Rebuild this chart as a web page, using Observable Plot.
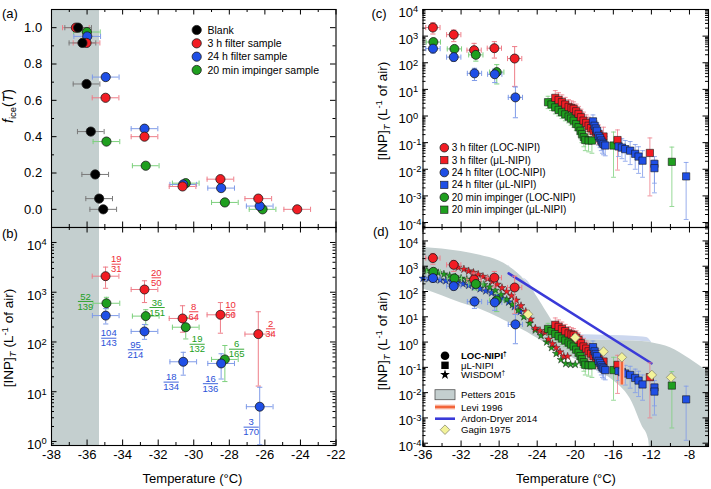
<!DOCTYPE html>
<html><head><meta charset="utf-8">
<script src="https://cdn.jsdelivr.net/npm/d3@7"></script>
<script src="https://cdn.jsdelivr.net/npm/@observablehq/plot@0.6"></script>
<style>
html,body{margin:0;padding:0;background:#fff;}
#root{position:relative;width:711px;height:489px;overflow:hidden;background:#fff;}
#root svg{position:absolute;left:0;top:0;}
</style></head><body><div id="root"></div>
<script>
const FONT = '"Liberation Sans", Arial, Helvetica, sans-serif';

// ---------------- Panel (a): frozen fraction f_ice(T) ----------------
const blankT     = [-36.50,-36.26,-36.03,-35.79,-35.54,-35.32,-35.09];
const blankF     = [1.0,0.916,0.69,0.428,0.192,0.059,0.0];
const filter3hT  = [-36.63,-36.03,-34.96,-32.77,-30.63,-28.50,-26.37,-24.18];
const filter3hF  = [1.0,0.916,0.614,0.400,0.126,0.166,0.059,0.0];
const filter24hT = [-35.99,-34.95,-32.77,-30.59,-28.46,-26.29];
const filter24hF = [0.952,0.728,0.444,0.137,0.117,0.018];
const impingerT  = [-36.01,-34.91,-32.70,-30.45,-28.25,-26.13];
const impingerF  = [0.976,0.373,0.24,0.144,0.038,0.0];
const tempErr = 0.75;
const homogeneousLimit = -35.3;

// ---------------- LOC-NIPI [INP]_T (panels b, c, d) ----------------
const locRedT   = [-34.96,-32.77,-30.63,-28.50,-26.37];
const locRedV   = [2100,1135,297,352,144];
const locRedLo  = [1200,620,157,150,13];
const locRedHi  = [3200,1700,535,620,405];
const locGreenT = [-34.91,-32.70,-30.45,-28.25];
const locGreenV = [600,331,198,44.6];
const locGreenLo= [465,222,115,16];
const locGreenHi= [790,445,310,85];
const locBlueT  = [-34.95,-32.77,-30.59,-28.46,-26.29];
const locBlueV  = [339,163,40,37,5.0];
const locBlueLo = [230,113,21.5,18,0.86];
const locBlueHi = [470,225,62,58,12.3];

// fraction labels in (b): frozen / total droplets
const fracRedT   = [-34.36,-32.11,-30.00,-27.93,-25.68];
const fracRedV   = [3660,1950,405,437,184];
const fracRedNum = ["19","20","8","10","2"];
const fracRedDen = ["31","50","64","60","34"];
const fracGreenT   = [-36.09,-32.06,-29.81,-27.59];
const fracGreenV   = [652,493,90,71.6];
const fracGreenNum = ["52","36","19","6"];
const fracGreenDen = ["139","151","132","165"];
const fracBlueT   = [-34.78,-33.28,-31.27,-29.06,-26.77];
const fracBlueV   = [119,69.7,15.6,14.5,1.94];
const fracBlueNum = ["104","95","18","16","3"];
const fracBlueDen = ["143","214","134","136","170"];

// ---------------- μL-NIPI ----------------
const redMuT  = [-22.10,-21.75,-21.40,-21.05,-20.70,-20.40,-20.17,-19.90,-19.65,-19.40,-19.13,-18.85,-18.60,-18.35,-18.08,-17.80,-17.55,-17.03,-15.56,-12.16];
const redMuV  = [4.8,4.0,3.3,2.7,2.2,2.0,1.85,1.5,1.2,0.9,0.67,0.55,0.43,0.35,0.28,0.24,0.21,0.17,0.125,0.041];
const redMuHi = [9.0,7.5,6.2,5.0,4.1,3.7,3.4,2.8,2.3,1.8,1.4,1.1,0.9,0.75,0.6,0.52,0.46,0.38,0.30,0.15];
const redMuLo = [2.6,2.2,1.8,1.5,1.2,1.1,1.0,0.8,0.62,0.45,0.32,0.26,0.2,0.16,0.12,0.1,0.085,0.06,0.0093,0.001];
const greenMuT  = [-22.86,-22.50,-22.10,-21.75,-21.40,-21.05,-20.70,-20.45,-20.17,-19.90,-19.65,-19.45,-19.30,-19.10,-18.95,-18.60,-18.25,-15.98,-9.85];
const greenMuV  = [3.3,2.7,2.1,1.7,1.38,1.15,0.95,0.8,0.67,0.5,0.38,0.28,0.21,0.16,0.126,0.12,0.12,0.078,0.019];
const greenMuHi = [5.5,4.5,3.6,2.9,2.4,2.0,1.6,1.4,1.15,0.9,0.7,0.52,0.4,0.32,0.26,0.25,0.25,0.25,0.068];
const greenMuLo = [1.9,1.6,1.2,1.0,0.8,0.66,0.55,0.45,0.38,0.28,0.2,0.14,0.1,0.07,0.05,0.045,0.04,0.005,0.0004];
const blueMuT  = [-18.14,-17.97,-17.85,-17.72,-17.55,-17.40,-17.27,-17.15,-17.03,-16.85,-15.45,-15.10,-14.75,-14.23,-13.70,-13.35,-12.93,-11.68,-11.68,-8.35];
const blueMuV  = [0.63,0.43,0.34,0.28,0.18,0.15,0.12,0.1,0.089,0.078,0.072,0.065,0.057,0.05,0.038,0.03,0.021,0.016,0.011,0.0054];
const blueMuHi = [1.1,0.8,0.65,0.55,0.38,0.32,0.27,0.22,0.2,0.17,0.15,0.14,0.12,0.11,0.085,0.07,0.05,0.03,0.022,0.018];
const blueMuLo = [0.3,0.2,0.15,0.12,0.08,0.065,0.05,0.04,0.035,0.032,0.03,0.025,0.02,0.015,0.01,0.007,0.005,0.003,0.0013,0.00013];

// ---------------- WISDOM (panel d) ----------------
const wisdomRedT = [-32.8,-32.3,-31.7,-31.2,-30.7,-30.2,-29.7,-29.2,-28.7,-28.2,-27.7,-27.2,-26.7,-26.2,-25.7,-25.2,-24.7,-24.2,-23.7,-23.2,-22.8,-22.4,-22.0,-21.6,-21.2,-20.8];
const wisdomRedV = [1100,900,760,640,560,470,390,320,250,190,140,100,68,45,27,16,8,3.5,2.8,2.4,1.3,0.85,0.6,0.4,0.27,0.27];
const wisdomGreenT = [-35.6,-35.0,-34.4,-33.8,-33.2,-32.6,-32.0,-31.4,-30.8,-30.2,-29.6,-29.0,-28.4,-27.8,-27.2,-26.6,-26.0,-25.4,-24.8,-24.2,-23.6,-23.0,-22.5,-22.0,-21.5,-21.0,-20.5,-20.0];
const wisdomGreenV = [680,600,540,480,420,370,330,300,260,220,185,150,110,75,48,30,18,10,5.5,3,1.8,1.0,0.6,0.35,0.2,0.14,0.13,0.13];
const wisdomBlueT = [-36.0,-35.4,-34.8,-34.2,-33.6,-33.0,-32.4,-31.8,-31.2,-30.6,-30.0,-29.4,-28.8,-28.2,-27.6,-27.0,-26.4,-25.8];
const wisdomBlueV = [330,320,300,285,265,245,225,200,175,150,128,105,88,68,52,38,25,16];

// ---------------- literature (panel d) ----------------
const pettersT  = [-36,-34,-32,-30,-28,-27,-26,-25,-24,-23,-22,-21,-20,-18,-16,-14,-13,-12.3,-12,-10,-8,-6];
const pettersHi = [5500,4800,3800,2700,1600,1000,500,200,60,15,4,1.9,1.35,1.2,1.15,1.1,1.05,1.0,0.95,0.6,0.22,0.065];
const pettersLo = [125,68,35,20,9.2,5.9,3.8,2.4,1.4,0.85,0.5,0.32,0.21,0.083,0.03,0.004,0.0005,0.00014,0.00001,0.00001,0.00001,0.00001];
const paleT  = [-27,-26,-25,-24.2,-23.5,-22.5,-21.5,-20,-18,-16,-14,-12.5,-12];
const paleHi = [1100,420,260,80,18,4.5,2.4,2.0,1.9,1.8,1.7,1.5,1.0];
const paleLo = [1000,500,200,50,13,3.2,1.7,1.35,1.2,1.15,1.1,1.02,0.95];
const ardonT = [-27,-12];
const ardonV = [520,0.145];
const leviT  = [-15.1];
const leviLo = [0.02];
const leviHi = [0.25];
const gaginT = [-24.96,-20.0,-17.03,-15.1,-11.95,-9.93];
const gaginV = [12.6,1.5,0.42,0.25,0.05,0.04];

// ---------------- ticks & tick labels ----------------
const tempTicksAB = [-38,-36,-34,-32,-30,-28,-26,-24,-22];
const tempTickLabelsAB = ["-38","-36","-34","-32","-30","-28","-26","-24","-22"];
const tempMinorAB = [-37,-35,-33,-31,-29,-27,-25,-23];
const ficeTicks = [0,0.2,0.4,0.6,0.8,1.0];
const ficeTickLabels = ["0.0","0.2","0.4","0.6","0.8","1.0"];
const ficeMinor = [0.1,0.3,0.5,0.7,0.9];
const inpTicksB = [1,10,100,1000,10000];
const inpTickLabelsB = ["10^0","10^1","10^2","10^3","10^4"];
const inpTicksCD = [1e-4,1e-3,1e-2,1e-1,1,10,100,1e3,1e4];
const inpTickLabelsCD = ["10^-4","10^-3","10^-2","10^-1","10^0","10^1","10^2","10^3","10^4"];
const tempTicksCD = [-36,-32,-28,-24,-20,-16,-12,-8];
const tempTickLabelsCD = ["-36","-32","-28","-24","-20","-16","-12","-8"];
const tempMinorCD = [-34,-30,-26,-22,-18,-14,-10];

// ---------------- styling ----------------
const COL = {black:"#000000", red:"#f21d24", blue:"#1f4fe6", green:"#1f9f1f"};
const ERR = {black:"#7a7a7a", red:"#ee7d88", blue:"#7f9be8", green:"#7dd07d"};
const TXT = {red:"#ee2b35", green:"#22a022", blue:"#2a52d8"};
const SHADE = "#c4cfcf";
const PALE = "#ccd7ee";

const FA = {l:51, r:335.5, t:9, b:227};
const FB = {l:51, r:335.5, t:227, b:445};
const FC = {l:422.5, r:708, t:9, b:227};
const FD = {l:422.5, r:708, t:227, b:446};
const xDomAB = [-38,-22], yDomA = [-0.1,1.1], yDomB = [0.83,20000];
const xDomCD = [-36,-6], yDomC = [6.5e-5,1e4], yDomD = [7.4e-5,3.4e4];

function capSymbol(vertical){return {draw(ctx,size){const r=Math.sqrt(size/Math.PI); if(vertical){ctx.moveTo(0,-r);ctx.lineTo(0,r);}else{ctx.moveTo(-r,0);ctx.lineTo(r,0);}}};}
const capV = capSymbol(true), capH = capSymbol(false);

function logMinor([lo,hi]){const out=[];for(let k=Math.floor(Math.log10(lo));k<=Math.ceil(Math.log10(hi));k++)for(let m=2;m<=9;m++){const v=m*10**k;if(v>lo&&v<hi)out.push(v);}return out;}
function rowsOf(T,V,lo,hi){return T.map((t,i)=>({T:t,V:V?V[i]:null,lo:lo?lo[i]:null,hi:hi?hi[i]:null}));}

function frameMarks(F,xMajor,xMinor,yMajor,yMinor){
  const iw=F.r-F.l, ih=F.b-F.t, M=5.5, m=3, s={stroke:"#000",strokeWidth:1};
  return [
    Plot.tickX(xMajor,{x:d=>d,insetTop:ih-M,...s}),
    Plot.tickX(xMajor,{x:d=>d,insetBottom:ih-M,...s}),
    Plot.tickX(xMinor,{x:d=>d,insetTop:ih-m,...s}),
    Plot.tickX(xMinor,{x:d=>d,insetBottom:ih-m,...s}),
    Plot.tickY(yMajor,{y:d=>d,insetRight:iw-M,...s}),
    Plot.tickY(yMajor,{y:d=>d,insetLeft:iw-M,...s}),
    Plot.tickY(yMinor,{y:d=>d,insetRight:iw-m,...s}),
    Plot.tickY(yMinor,{y:d=>d,insetLeft:iw-m,...s}),
    Plot.frame({stroke:"#000",strokeWidth:1.1})
  ];
}
function makePlot(F,xDom,yDom,yType,marks){
  return Plot.plot({
    width:711,height:489,marginLeft:F.l,marginRight:711-F.r,marginTop:F.t,marginBottom:489-F.b,
    x:{domain:xDom,axis:null},y:{domain:yDom,type:yType,axis:null},
    style:{background:"transparent",overflow:"visible",fontFamily:FONT},
    marks
  });
}
function errX(rows,color,e,cap=2.6){
  return [
    Plot.ruleY(rows,{y:"V",x1:d=>d.T-e,x2:d=>d.T+e,stroke:color,strokeWidth:1}),
    Plot.dot(rows,{x:d=>d.T-e,y:"V",symbol:capV,r:cap,stroke:color,strokeWidth:1,fill:"none"}),
    Plot.dot(rows,{x:d=>d.T+e,y:"V",symbol:capV,r:cap,stroke:color,strokeWidth:1,fill:"none"})
  ];
}
function errY(rows,color,cap=2.6,op=1){
  return [
    Plot.ruleX(rows,{x:"T",y1:"lo",y2:"hi",stroke:color,strokeWidth:1,strokeOpacity:op}),
    Plot.dot(rows,{x:"T",y:"lo",symbol:capH,r:cap,stroke:color,strokeWidth:1,strokeOpacity:op,fill:"none"}),
    Plot.dot(rows,{x:"T",y:"hi",symbol:capH,r:cap,stroke:color,strokeWidth:1,strokeOpacity:op,fill:"none"})
  ];
}

const locSeries = [
  {key:"red",  rows:rowsOf(locRedT,locRedV,locRedLo,locRedHi)},
  {key:"green",rows:rowsOf(locGreenT,locGreenV,locGreenLo,locGreenHi)},
  {key:"blue", rows:rowsOf(locBlueT,locBlueV,locBlueLo,locBlueHi)}
];
function locMarks(){
  const out=[];
  for(const s of locSeries){out.push(...errY(s.rows,ERR[s.key]),...errX(s.rows,ERR[s.key],tempErr));}
  for(const s of locSeries){out.push(Plot.dot(s.rows,{x:"T",y:"V",r:4.5,fill:COL[s.key],stroke:"#1a1a1a",strokeWidth:0.8}));}
  return out;
}
const muSeries = [
  {key:"green",rows:rowsOf(greenMuT,greenMuV,greenMuLo,greenMuHi)},
  {key:"red",  rows:rowsOf(redMuT,redMuV,redMuLo,redMuHi)},
  {key:"blue", rows:rowsOf(blueMuT,blueMuV,blueMuLo,blueMuHi)}
];
function muMarks(){
  const out=[];
  for(const s of muSeries){out.push(...errY(s.rows,ERR[s.key],2.4,0.8));}
  for(const s of muSeries){out.push(Plot.dot(s.rows,{x:"T",y:"V",symbol:"square",r:4.1,fill:COL[s.key],stroke:"#1a1a1a",strokeWidth:0.6}));}
  return out;
}
const yLabelsLog = (ticks,labels)=>Plot.text(ticks,{y:d=>d,text:(d,i)=>labels[i],frameAnchor:"left",dx:-24.4,dy:3.3,textAnchor:"start",fontSize:13});

// ---------------- (a) ----------------
const aSeries = [
  {key:"green",rows:rowsOf(impingerT,impingerF)},
  {key:"blue", rows:rowsOf(filter24hT,filter24hF)},
  {key:"red",  rows:rowsOf(filter3hT,filter3hF)},
  {key:"black",rows:rowsOf(blankT,blankF)}
];
const plotA = makePlot(FA,xDomAB,yDomA,"linear",[
  Plot.rect([homogeneousLimit],{x1:xDomAB[0],x2:d=>d,fill:SHADE}),
  ...aSeries.flatMap(s=>errX(s.rows,ERR[s.key],tempErr)),
  ...aSeries.map(s=>Plot.dot(s.rows,{x:"T",y:"V",r:4.6,fill:COL[s.key],stroke:"#1a1a1a",strokeWidth:0.8})),
  Plot.text(ficeTicks,{y:d=>d,text:(d,i)=>ficeTickLabels[i],frameAnchor:"left",dx:-9.3,textAnchor:"end",fontSize:13}),
  ...frameMarks(FA,tempTicksAB,tempMinorAB,ficeTicks,ficeMinor)
]);

// ---------------- (b) ----------------
function fracMarks(key,T,V,num,den){
  const rows=T.map((t,i)=>({T:t,V:V[i],num:num[i],den:den[i]}));
  return [
    Plot.text(rows,{x:"T",y:"V",text:"num",dy:-5,fill:TXT[key],fontSize:9.5}),
    Plot.text(rows,{x:"T",y:"V",text:"den",dy:5.2,fill:TXT[key],fontSize:9.5}),
    Plot.dot(rows.filter(d=>d.den.length<3),{x:"T",y:"V",symbol:capH,r:4.6,stroke:TXT[key],strokeWidth:0.9}),
    Plot.dot(rows.filter(d=>d.den.length>=3),{x:"T",y:"V",symbol:capH,r:7.6,stroke:TXT[key],strokeWidth:0.9})
  ];
}
const plotB = makePlot(FB,xDomAB,yDomB,"log",[
  Plot.rect([homogeneousLimit],{x1:xDomAB[0],x2:d=>d,fill:SHADE}),
  ...locMarks(),
  ...fracMarks("red",fracRedT,fracRedV,fracRedNum,fracRedDen),
  ...fracMarks("green",fracGreenT,fracGreenV,fracGreenNum,fracGreenDen),
  ...fracMarks("blue",fracBlueT,fracBlueV,fracBlueNum,fracBlueDen),
  yLabelsLog(inpTicksB,inpTickLabelsB),
  Plot.text(tempTicksAB,{x:d=>d,text:(d,i)=>tempTickLabelsAB[i],frameAnchor:"bottom",dy:13,fontSize:13}),
  ...frameMarks(FB,tempTicksAB,tempMinorAB,inpTicksB,logMinor(yDomB))
]);

// ---------------- (c) ----------------
const plotC = makePlot(FC,xDomCD,yDomC,"log",[
  ...muMarks(),
  ...locMarks(),
  yLabelsLog(inpTicksCD,inpTickLabelsCD),
  ...frameMarks(FC,tempTicksCD,tempMinorCD,inpTicksCD,logMinor(yDomC))
]);

// ---------------- (d) ----------------
const wisdomSeries = [
  {key:"blue", rows:rowsOf(wisdomBlueT,wisdomBlueV)},
  {key:"green",rows:rowsOf(wisdomGreenT,wisdomGreenV)},
  {key:"red",  rows:rowsOf(wisdomRedT,wisdomRedV)}
];
const plotD = makePlot(FD,xDomCD,yDomD,"log",[
  Plot.areaY(rowsOf(paleT,null,paleLo,paleHi),{x:"T",y1:"lo",y2:"hi",fill:PALE,curve:"monotone-x",clip:true}),
  Plot.areaY(rowsOf(pettersT,null,pettersLo,pettersHi),{x:"T",y1:"lo",y2:"hi",fill:SHADE,curve:"monotone-x",clip:true}),
  Plot.line(rowsOf(ardonT,ardonV),{x:"T",y:"V",stroke:"#3a3ad8",strokeWidth:2.6}),
  ...wisdomSeries.map(s=>Plot.dot(s.rows,{x:"T",y:"V",symbol:"star",r:2.5,fill:COL[s.key],stroke:"#111",strokeWidth:0.4})),
  ...muMarks(),
  ...locMarks(),
  Plot.ruleX(rowsOf(leviT,null,leviLo,leviHi),{x:"T",y1:"lo",y2:"hi",stroke:"#fbc4b4",strokeWidth:5}),
  Plot.ruleX(rowsOf(leviT,null,leviLo,leviHi),{x:"T",y1:"lo",y2:"hi",stroke:"#f2653a",strokeWidth:2.5}),
  Plot.dot(rowsOf(gaginT,gaginV),{x:"T",y:"V",symbol:"diamond2",r:4.3,fill:"#f3f39a",stroke:"#8c8c70",strokeWidth:0.8}),
  yLabelsLog(inpTicksCD,inpTickLabelsCD),
  Plot.text(tempTicksCD,{x:d=>d,text:(d,i)=>tempTickLabelsCD[i],frameAnchor:"bottom",dy:12.5,fontSize:13}),
  ...frameMarks(FD,tempTicksCD,tempMinorCD,inpTicksCD,logMinor(yDomD))
]);

const root = document.getElementById("root");
[plotA,plotB,plotC,plotD].forEach(p=>root.appendChild(p));

// superscripts in tick labels
d3.selectAll("#root svg text").each(function(){
  const s=this.textContent;
  if(s.includes("^")){const [b,e]=s.split("^");const t=d3.select(this);t.text(b);t.append("tspan").attr("dy","-0.5em").attr("font-size","0.72em").text(e);}
});

// ---------------- overlay: titles & legends ----------------
const ov = d3.select(root).append("svg").attr("width",711).attr("height",489).style("font-family",FONT);
function inpTitle(x,y){
  const t=ov.append("text").attr("transform",`translate(${x},${y}) rotate(-90)`).attr("text-anchor","middle").attr("font-size",13.5);
  t.append("tspan").text("[INP]");
  t.append("tspan").attr("font-size",9.5).attr("font-style","italic").attr("dy",3).text("T");
  t.append("tspan").attr("dy",-3).text(" (L");
  t.append("tspan").attr("font-size",9.5).attr("dy",-5).text("-1");
  t.append("tspan").attr("dy",5).text(" of air)");
}
{
  const t=ov.append("text").attr("transform","translate(12.5,106) rotate(-90)").attr("text-anchor","middle").attr("font-size",14);
  t.append("tspan").attr("font-style","italic").text("f");
  t.append("tspan").attr("font-size",9.5).attr("dy",3).text("ice");
  t.append("tspan").attr("dy",-3).text("(");
  t.append("tspan").attr("font-style","italic").text("T");
  t.append("tspan").text(")");
}
inpTitle(13,338); inpTitle(386.5,111); inpTitle(386.5,341);
ov.append("text").attr("x",192.5).attr("y",483).attr("text-anchor","middle").attr("font-size",13).text("Temperature (°C)");
ov.append("text").attr("x",566).attr("y",483).attr("text-anchor","middle").attr("font-size",13).text("Temperature (°C)");
[["(a)",2,17.5],["(b)",2,237.5],["(c)",371.5,17.5],["(d)",373,235.5]].forEach(([s,x,y])=>ov.append("text").attr("x",x).attr("y",y).attr("font-size",13).text(s));

// legend (a)
const legendA=[{key:"black",label:"Blank"},{key:"red",label:"3 h filter sample"},{key:"blue",label:"24 h filter sample"},{key:"green",label:"20 min impinger sample"}];
legendA.forEach((d,i)=>{const y=30+i*13.33;
  ov.append("circle").attr("cx",196.7).attr("cy",y).attr("r",4.6).attr("fill",COL[d.key]).attr("stroke","#1a1a1a").attr("stroke-width",0.8);
  ov.append("text").attr("x",207.5).attr("y",y+3.7).attr("font-size",10.5).text(d.label);});

// legend (c)
const legendC=[{key:"red",sym:"c",label:"3 h filter (LOC-NIPI)"},{key:"red",sym:"s",label:"3 h filter (\u03bcL-NIPI)"},{key:"blue",sym:"c",label:"24 h filter (LOC-NIPI)"},{key:"blue",sym:"s",label:"24 h filter (\u03bcL-NIPI)"},{key:"green",sym:"c",label:"20 min impinger (LOC-NIPI)"},{key:"green",sym:"s",label:"20 min impinger (\u03bcL-NIPI)"}];
legendC.forEach((d,i)=>{const y=147.7+i*12.4;
  if(d.sym==="c") ov.append("circle").attr("cx",444.3).attr("cy",y).attr("r",4.3).attr("fill",COL[d.key]).attr("stroke","#1a1a1a").attr("stroke-width",0.8);
  else ov.append("rect").attr("x",440.6).attr("y",y-3.7).attr("width",7.4).attr("height",7.4).attr("fill",COL[d.key]).attr("stroke","#1a1a1a").attr("stroke-width",0.6);
  ov.append("text").attr("x",451.7).attr("y",y+3.5).attr("font-size",10).text(d.label);});

// legend (d)
{
  const tx=461, fs=9.6;
  ov.append("circle").attr("cx",445).attr("cy",355.7).attr("r",4.3).attr("fill","#000");
  const t1=ov.append("text").attr("x",tx).attr("y",359).attr("font-size",fs).attr("font-weight","bold").text("LOC-NIPI");
  t1.append("tspan").attr("font-size",6.5).attr("dy",-3.5).text("\u2020");
  ov.append("rect").attr("x",441.3).attr("y",361.6).attr("width",7.4).attr("height",7.4).attr("fill","#000");
  ov.append("text").attr("x",tx).attr("y",368.7).attr("font-size",fs).text("\u03bcL-NIPI");
  ov.append("path").attr("transform","translate(445,374.7)").attr("d",d3.symbol(d3.symbolStar,30)()).attr("fill","#000");
  const t3=ov.append("text").attr("x",tx).attr("y",378.2).attr("font-size",fs).text("WISDOM");
  t3.append("tspan").attr("font-size",6.5).attr("dy",-3.5).text("\u2020");
  ov.append("rect").attr("x",435).attr("y",389.7).attr("width",20).attr("height",10).attr("fill",SHADE).attr("stroke","#555").attr("stroke-width",0.8);
  ov.append("text").attr("x",tx).attr("y",398.2).attr("font-size",fs).text("Petters 2015");
  ov.append("line").attr("x1",435).attr("x2",455).attr("y1",407).attr("y2",407).attr("stroke","#fbc4b4").attr("stroke-width",5);
  ov.append("line").attr("x1",435).attr("x2",455).attr("y1",407).attr("y2",407).attr("stroke","#f2653a").attr("stroke-width",2.5);
  ov.append("text").attr("x",tx).attr("y",410.5).attr("font-size",fs).text("Levi 1996");
  ov.append("line").attr("x1",435).attr("x2",455).attr("y1",418.7).attr("y2",418.7).attr("stroke","#3a3ad8").attr("stroke-width",2.6);
  ov.append("text").attr("x",tx).attr("y",422.2).attr("font-size",fs).text("Ardon-Dryer 2014");
  ov.append("path").attr("transform","translate(445,429.7)").attr("d",d3.symbol(d3.symbolDiamond2,58)()).attr("fill","#f3f39a").attr("stroke","#8c8c70").attr("stroke-width",0.8);
  ov.append("text").attr("x",tx).attr("y",433.2).attr("font-size",fs).text("Gagin 1975");
}
</script></body></html>
